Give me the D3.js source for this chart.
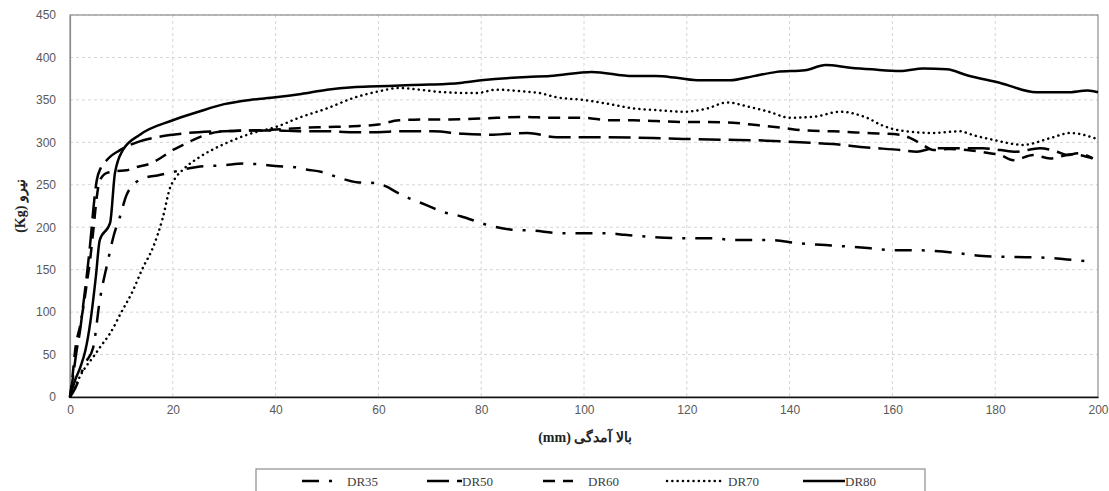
<!DOCTYPE html>
<html>
<head>
<meta charset="utf-8">
<script src="https://cdn.jsdelivr.net/npm/d3@7"></script>
<style>
  body { margin: 0; background: #fff; }
  svg { display: block; }
  .serif { font-family: "Liberation Serif", "Times New Roman", "DejaVu Serif", serif; }
</style>
</head>
<body>
<div id="chart"></div>
<script>
// series names, in legend order
var seriesNames = ["DR35", "DR50", "DR60", "DR70", "DR80"];

// [displacement mm, force kg]
var dr35 = [[0,0],[1,10],[2,25],[3,40],[4.5,58],[5.8,114],[7.4,161],[8.5,190],[9.7,212],[11,238],[12,248],[15,259],[17,261],[20,265],[24.7,271],[30,273],[33.7,275],[37,274],[40,272],[43.4,271],[46,268],[49,265],[52,259],[55.8,253],[59.7,252],[61.5,248],[63.6,241],[66,234],[69,227],[72.6,218],[76,213],[81,203],[86,197],[90,196],[95.3,193],[100,193],[104.5,193],[108,191],[112,189],[119.3,187],[125,187],[129,185],[135.6,185],[142,181],[147,179],[151.8,177],[156,175],[160,173],[164,173],[168,172],[172,170],[177.6,166],[184,165],[190,164],[194,162],[198,160]];
var dr50 = [[0,0],[0.5,20],[1.3,55],[2,80],[2.6,110],[3.3,145],[4,185],[4.6,225],[5.2,255],[6,270],[7,278],[8,284],[9.5,290],[11,295],[13,300],[16,305],[20,309],[25,312],[30,313],[35,314],[40,314],[45,313],[50,313],[55,312],[60,312],[64,313],[70.6,313],[76.5,310],[82.3,309],[89,311],[94.7,306],[103,306],[113.4,305],[119.3,304],[128,303],[135.6,302],[142,300],[148.4,298],[155,294],[161.5,291],[164.8,289],[168,293],[173,293],[177.6,293],[181,291],[184,289],[188.7,293],[192,289],[194,285],[196,287],[199,281]];
var dr60 = [[0,0],[0.5,25],[1,55],[2,85],[2.6,106],[3.3,135],[3.9,161],[4.6,200],[5.2,235],[5.8,255],[7.2,264],[9,266],[11,267],[13,271],[15.6,275],[18,283],[20,291],[22,297],[24,303],[27,310],[30,313],[35,314],[40,315],[45,317],[50,318],[55,319],[60,321],[64,326],[70,327],[74,327],[80,328],[88,330],[94,329],[99.8,329],[105,326],[109.5,326],[114,325],[119.3,324],[124,324],[129,323],[134,320],[138.7,317],[143,314],[148.4,313],[155,311],[161.5,309],[163.5,305],[165.4,299],[168,291],[171,292],[174.5,291],[178,288],[181,285],[183.5,279],[187.4,285],[190.7,281],[195,286],[199,281]];
var dr70 = [[0,0],[1,12],[2,25],[3,35],[4.5,47],[6,60],[7.8,75],[10,100],[12.3,126],[14,150],[16.2,177],[18,210],[19.5,247],[20.5,258],[22,268],[25.3,283],[30,298],[35,310],[40,318],[45,330],[50,340],[55,352],[60,360],[64,364],[68,362],[72.6,359],[79,358],[83,362],[88,360],[91.4,358],[94.7,353],[99.8,350],[105,345],[109.5,340],[114,338],[119.3,336],[124,340],[127.8,347],[132,342],[136,336],[140,329],[144.6,330],[149.8,336],[155,329],[158,320],[161.5,314],[168,311],[173,313],[176,308],[179.6,303],[185.4,297],[190.7,305],[194.6,311],[199.8,304]];
var dr80 = [[0,0],[1,20],[2,35],[3,55],[4,90],[5,140],[5.8,185],[7.8,205],[8.75,264],[10.3,291],[13.6,309],[20,326],[25,336],[30,345],[35,350],[40,353],[45,357],[50,362],[55,365],[60,366],[64.2,367],[70,368],[75.9,370],[80,373],[88.9,377],[93.4,378],[101.5,383],[109.5,378],[114,378],[118,376],[122.6,373],[128.4,373],[133,378],[137.5,383],[143,385],[147,391],[151.8,388],[156,386],[161.5,384],[166,387],[170.6,386],[174.5,379],[181,370],[188,359],[194,359],[198,361],[200,359]];

var xTicks = [0, 20, 40, 60, 80, 100, 120, 140, 160, 180, 200];
var yTicks = [0, 50, 100, 150, 200, 250, 300, 350, 400, 450];

var xLabel = "بالا آمدگی (mm)";
var yLabel = "نیرو (Kg)";

var allSeries = [dr35, dr50, dr60, dr70, dr80];

// line styles per series
var dashes = ["17,10,3,10", "22,8", "12,8", "0.1,5.2", null];
var caps = ["butt", "butt", "butt", "round", "butt"];

var attrs = {
  svgWidth: 1109,
  svgHeight: 491,
  marginLeft: 70,
  marginTop: 15,
  chartWidth: 1028,
  chartHeight: 382,
  tickFont: "'Liberation Sans', Arial, sans-serif"
};

var svg = d3.select('#chart').append('svg')
  .attr('width', attrs.svgWidth)
  .attr('height', attrs.svgHeight);

var x = d3.scaleLinear().domain([0, 200]).range([0, attrs.chartWidth]);
var y = d3.scaleLinear().domain([0, 450]).range([attrs.chartHeight, 0]);

var chart = svg.append('g')
  .attr('transform', 'translate(' + attrs.marginLeft + ',' + attrs.marginTop + ')');

// grid
chart.append('g')
  .selectAll('line')
  .data(yTicks.slice(1))
  .enter().append('line')
  .attr('x1', 0).attr('x2', attrs.chartWidth)
  .attr('y1', d => y(d)).attr('y2', d => y(d))
  .attr('stroke', '#d4d4d4')
  .attr('stroke-dasharray', '3,3');

chart.append('g')
  .selectAll('line')
  .data(xTicks.slice(1, -1))
  .enter().append('line')
  .attr('y1', 0).attr('y2', attrs.chartHeight)
  .attr('x1', d => x(d)).attr('x2', d => x(d))
  .attr('stroke', '#d4d4d4')
  .attr('stroke-dasharray', '3,3');

// plot frame
chart.append('rect')
  .attr('x', 0).attr('y', 0)
  .attr('width', attrs.chartWidth).attr('height', attrs.chartHeight)
  .attr('fill', 'none')
  .attr('stroke', '#8c8c8c')
  .attr('stroke-width', 1.2);

// axes
var xAxis = d3.axisBottom(x).tickValues(xTicks).tickSize(0).tickPadding(8);
var yAxis = d3.axisLeft(y).tickValues(yTicks).tickSize(0).tickPadding(14);

var gx = chart.append('g')
  .attr('transform', 'translate(0,' + attrs.chartHeight + ')')
  .call(xAxis);
gx.select('.domain').attr('stroke', '#111').attr('stroke-width', 1.6);
gx.selectAll('text').style('font-family', attrs.tickFont).style('font-size', '12px').attr('fill', '#595959');

var gy = chart.append('g').call(yAxis);
gy.select('.domain').attr('stroke', '#8c8c8c').attr('stroke-width', 1.2);
gy.selectAll('text').style('font-family', attrs.tickFont).style('font-size', '12px').attr('fill', '#595959');

// series lines
var line = d3.line()
  .x(d => x(d[0]))
  .y(d => y(d[1]))
  .curve(d3.curveMonotoneX);

chart.selectAll('path.series')
  .data(allSeries)
  .enter().append('path')
  .attr('class', 'series')
  .attr('d', line)
  .attr('fill', 'none')
  .attr('stroke', '#000')
  .attr('stroke-width', 2.5)
  .attr('stroke-linecap', (d, i) => caps[i])
  .attr('stroke-dasharray', (d, i) => dashes[i]);

// axis titles
svg.append('text')
  .attr('class', 'serif')
  .attr('x', 585).attr('y', 442)
  .attr('text-anchor', 'middle')
  .attr('direction', 'rtl')
  .style('font-size', '14px')
  .attr('font-weight', 'bold')
  .attr('fill', '#222')
  .text(xLabel);

svg.append('text')
  .attr('class', 'serif')
  .attr('transform', 'translate(25,206) rotate(-90)')
  .attr('text-anchor', 'middle')
  .attr('direction', 'rtl')
  .style('font-size', '14px')
  .attr('font-weight', 'bold')
  .attr('fill', '#222')
  .text(yLabel);

// legend
var legend = svg.append('g');
legend.append('rect')
  .attr('x', 256).attr('y', 469)
  .attr('width', 669).attr('height', 40)
  .attr('fill', '#fff')
  .attr('stroke', '#8c8c8c')
  .attr('stroke-width', 1.2);

var legendX = [302, 427, 543, 667, 803];
var legendLen = [35, 35, 30, 56, 42];
var legendTextX = [347, 462, 588, 728, 845];

var items = legend.selectAll('g.item')
  .data(seriesNames)
  .enter().append('g')
  .attr('class', 'item');

items.append('line')
  .attr('x1', (d, i) => legendX[i])
  .attr('x2', (d, i) => legendX[i] + legendLen[i])
  .attr('y1', 481).attr('y2', 481)
  .attr('stroke', '#000')
  .attr('stroke-width', 2.5)
  .attr('stroke-linecap', (d, i) => caps[i])
  .attr('stroke-dasharray', (d, i) => dashes[i]);

items.append('text')
  .attr('class', 'serif')
  .attr('x', (d, i) => legendTextX[i])
  .attr('y', 486)
  .style('font-size', '13px')
  .attr('fill', '#404040')
  .text(d => d);
</script>
</body>
</html>
